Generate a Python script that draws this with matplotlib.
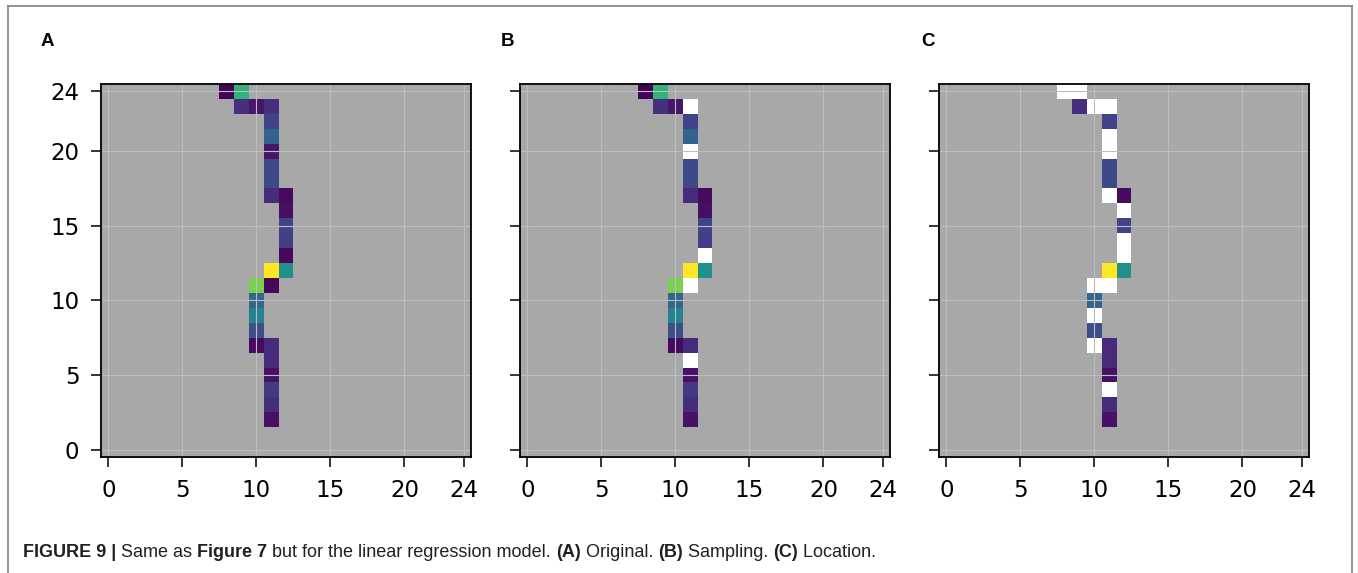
import numpy as np
import matplotlib
matplotlib.use("Agg")
import matplotlib.pyplot as plt
from matplotlib.colors import ListedColormap
from matplotlib.lines import Line2D

# grid size and ticks
n = 25
ticks = [0, 5, 10, 15, 20, 24]

# predicted path cells (row, col, value) - panel A
rows = [24, 24, 23, 23, 23, 22, 21, 20, 19, 18, 17, 17, 16, 15, 14, 13,
        12, 12, 11, 11, 10, 9, 8, 7, 7, 6, 5, 4, 3, 2]
cols = [8, 9, 9, 10, 11, 11, 11, 11, 11, 11, 11, 12, 12, 12, 12, 12,
        11, 12, 10, 11, 10, 10, 10, 10, 11, 11, 11, 11, 11, 11]
vals = [0.01, 0.65, 0.14, 0.06, 0.14, 0.20, 0.32, 0.06, 0.22, 0.22, 0.13, 0.03,
        0.04, 0.20, 0.18, 0.02, 1.00, 0.50, 0.80, 0.02, 0.33, 0.45, 0.24, 0.03,
        0.12, 0.12, 0.05, 0.17, 0.13, 0.05]

# cells shown as white in B (sampling) and C (location)
white_b = [(23, 11), (20, 11), (13, 12), (11, 11), (6, 11)]
white_c = [(24, 8), (24, 9), (23, 10), (23, 11), (21, 11), (20, 11), (17, 11),
           (16, 12), (14, 12), (13, 12), (11, 10), (11, 11), (9, 10), (7, 10),
           (4, 11)]

labels = ["A", "B", "C"]
whites = [[], white_b, white_c]

W, H = 1358, 573
fig = plt.figure(figsize=(W / 100, H / 100), dpi=100)

lefts = [101, 520, 939]
label_x = [41, 501, 921]
for i, lab in enumerate(labels):
    ax = fig.add_axes([lefts[i] / W, 1 - 457 / H, 370 / W, 373 / H])
    ax.set_facecolor("#a8a8a8")

    grid = np.full((n, n), np.nan)
    for r, c, v in zip(rows, cols, vals):
        grid[r, c] = v
    wmask = np.full((n, n), np.nan)
    for r, c in whites[i]:
        grid[r, c] = np.nan
        wmask[r, c] = 1

    ax.imshow(grid, cmap="viridis", vmin=0, vmax=1, origin="lower",
              interpolation="nearest")
    ax.imshow(wmask, cmap=ListedColormap(["white"]), vmin=0, vmax=1,
              origin="lower", interpolation="nearest")
    ax.set_xlim(-0.5, n - 0.5)
    ax.set_ylim(-0.5, n - 0.5)
    ax.set_aspect("auto")

    ax.set_xticks(ticks)
    ax.set_yticks(ticks)
    if i > 0:
        ax.set_yticklabels([])
    ax.grid(True, color="#bdbdbd", linewidth=0.8)
    ax.tick_params(labelsize=16.5, length=7, width=1.1, pad=8.5)
    for s in ax.spines.values():
        s.set_linewidth(1.3)

    fig.text(label_x[i] / W, 1 - 42 / H, lab, fontsize=13.5,
             fontweight="bold", family="Liberation Sans", va="center")

# caption, mixed bold and regular
parts = [("FIGURE 9 | ", "bold"), ("Same as ", "normal"), ("Figure 7", "bold"),
         (" but for the linear regression model. ", "normal"), ("(A)", "bold"),
         (" Original. ", "normal"), ("(B)", "bold"), (" Sampling. ", "normal"),
         ("(C)", "bold"), (" Location.", "normal")]

fig.canvas.draw()
renderer = fig.canvas.get_renderer()
x = 23
for txt, wt in parts:
    t = fig.text(x / W, 1 - 557 / H, txt, fontsize=13, fontweight=wt,
                 family="Liberation Sans", color="#231f20", va="baseline")
    bb = t.get_window_extent(renderer)
    x += bb.width

# frame lines around the figure
fc = "#808080"
fig.add_artist(Line2D([7.5 / W, 7.5 / W], [0, 1 - 6 / H], color=fc, lw=1.2))
fig.add_artist(Line2D([7.5 / W, 1352 / W], [1 - 6 / H, 1 - 6 / H], color=fc, lw=1.2))
fig.add_artist(Line2D([1352 / W, 1352 / W], [0, 1 - 6 / H], color=fc, lw=1.2))

fig.savefig("out.png", dpi=100)
